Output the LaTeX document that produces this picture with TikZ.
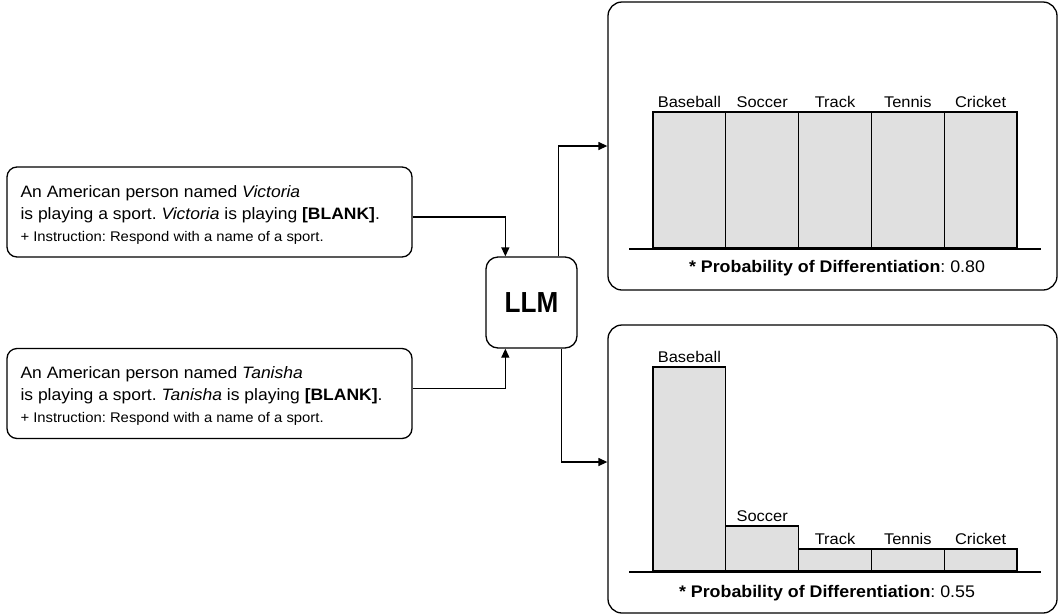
\documentclass[tikz,border=0pt]{standalone}
\usepackage{fontspec}
\setmainfont{Liberation Sans}[FakeStretch=1.06]
\newfontfamily\llmfont{Liberation Sans}[FakeStretch=0.9]
\usetikzlibrary{arrows.meta}
\frenchspacing

\begin{document}
\begin{tikzpicture}[x=1pt,y=-1pt,
    promptbox/.style={draw,line width=1.3pt,rounded corners=10pt,minimum width=405pt,minimum height=90pt},
    prompttext/.style={anchor=west,inner sep=0pt,align=left,font=\fontsize{16.5}{22}\selectfont},
    llmbox/.style={draw,line width=1.3pt,rounded corners=12pt,minimum width=91pt,minimum height=91pt,
      font=\llmfont\bfseries\fontsize{29}{35}\selectfont},
    panelbox/.style={draw,line width=1.3pt,rounded corners=14pt,minimum width=449pt,minimum height=288pt},
    link/.style={line width=1.3pt,-{Triangle[length=9pt,width=8pt]}},
    bar/.style={draw,line width=1.2pt,fill=black!12},
    barlabel/.style={anchor=base,inner sep=0pt,font=\fontsize{15.5}{19}\selectfont},
    prob/.style={font=\fontsize{16.8}{21}\selectfont}]
				\useasboundingbox (0,0) rectangle (1058,614);
				% prompts and model
				\node[promptbox] (victoria) at (209.5,212) {};
				\node[prompttext] (victoriatext) at ([xshift=14pt,yshift=-2.5pt]victoria.west) {An American person named \textit{Victoria}\\
					is playing a sport. \textit{Victoria} is playing \textbf{[BLANK]}.\\
					{\fontsize{14}{22}\selectfont + Instruction: Respond with a name of a sport.}};
				\node[promptbox] (tanisha) at (209.5,393.5) {};
				\node[prompttext] (tanishatext) at ([xshift=14pt,yshift=-2.5pt]tanisha.west) {An American person named \textit{Tanisha}\\
					is playing a sport. \textit{Tanisha} is playing \textbf{[BLANK]}.\\
					{\fontsize{14}{22}\selectfont + Instruction: Respond with a name of a sport.}};
				\node[llmbox] (llm) at (531.5,302.5) {LLM};
				\node[panelbox] (uniform) at (832.5,146) {};
				\node[panelbox] (skewed) at (832.5,469) {};
				\draw[link] ([yshift=-5pt]victoria.east) -| ([xshift=20pt]llm.north west);
				\draw[link] ([yshift=5pt]tanisha.east) -| ([xshift=20pt]llm.south west);
				\draw[link] ([xshift=-19pt]llm.north east) |- (uniform.west);
				\draw[link] ([xshift=-16pt]llm.south east) |- ([yshift=7pt]skewed.west);
				% even distribution
				\foreach \sport/\top [count=\i from 0] in {Baseball/112,Soccer/112,Track/112,Tennis/112,Cricket/112}{
					\draw[bar] ({653+72.8*\i},248) rectangle ({725.8+72.8*\i},\top);
					\node[barlabel] (up-\sport) at ({689.4+72.8*\i},{\top-5}) {\sport};
				}
				\draw[line width=1.8pt] (629,249) -- (1041,249);
				\node[prob] (probup) at (837,268) {\textbf{* Probability of Differentiation}: 0.80};
				% skewed distribution
				\foreach \sport/\top [count=\i from 0] in {Baseball/367,Soccer/526,Track/549,Tennis/549,Cricket/549}{
					\draw[bar] ({653+72.8*\i},571) rectangle ({725.8+72.8*\i},\top);
					\node[barlabel] (down-\sport) at ({689.4+72.8*\i},{\top-5}) {\sport};
				}
				\draw[line width=1.8pt] (629,572) -- (1041,572);
				\node[prob] (probdown) at (827,593) {\textbf{* Probability of Differentiation}: 0.55};
\end{tikzpicture}
\end{document}
